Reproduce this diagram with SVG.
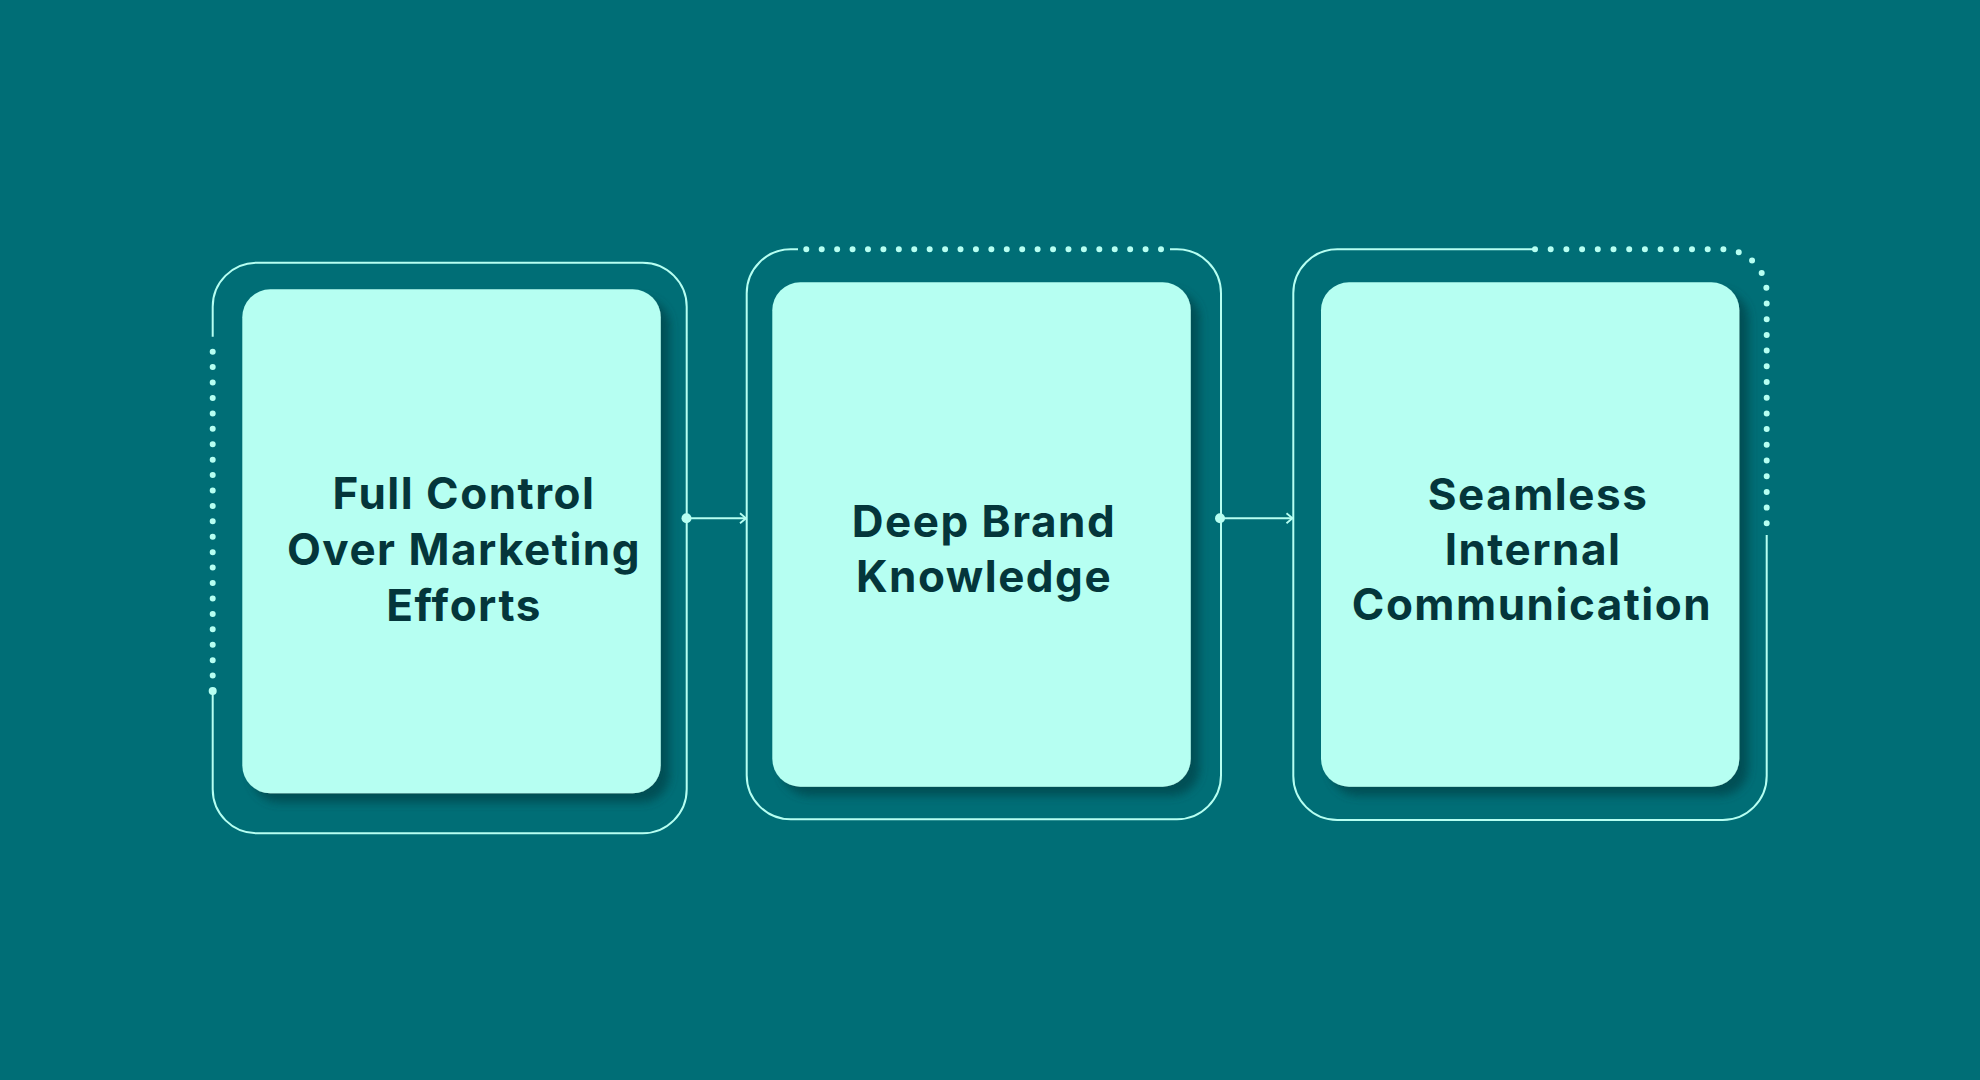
<svg xmlns="http://www.w3.org/2000/svg" width="1980" height="1080" viewBox="0 0 1980 1080">
<defs>
<filter id="sh" x="-10%" y="-10%" width="130%" height="130%">
<feDropShadow dx="9" dy="9" stdDeviation="5" flood-color="#02444a" flood-opacity="0.75"/>
</filter>
<marker id="arr" viewBox="0 0 12 12" refX="11" refY="6" markerWidth="12" markerHeight="12" markerUnits="userSpaceOnUse" orient="auto">
<path d="M5,1 L11,6 L5,11" fill="none" stroke="#b6fff2" stroke-width="1.8"/>
</marker>
</defs>
<style>
.line{fill:none;stroke:#b6fff2;stroke-width:2}
.dots{fill:none;stroke:#b6fff2;stroke-width:6;stroke-linecap:round;stroke-dasharray:0 1}
.card{fill:#b6fff2;filter:url(#sh)}
.lbl{font-family:Inter,"Open Sans","Liberation Sans",sans-serif;font-weight:700;font-size:44px;letter-spacing:1.5px;fill:#04363b;text-anchor:middle}
.pt{fill:#b6fff2}
</style>
<rect width="1980" height="1080" fill="#006e76"/>

<g id="node1">
<path class="line" d="M212.7,336.7 V306.7 A44,44 0 0 1 256.7,262.7 H642.7 A44,44 0 0 1 686.7,306.7 V789.3 A44,44 0 0 1 642.7,833.3 H256.7 A44,44 0 0 1 212.7,789.3 V691"/>
<path class="dots" pathLength="22" d="M212.7,351.7 V691"/>
<circle class="pt" cx="212.7" cy="691" r="4"/>
<rect class="card" x="242.3" y="289.3" width="418.4" height="504" rx="28"/>
<text class="lbl"><tspan x="464" y="509">Full Control</tspan><tspan x="464" y="565">Over Marketing</tspan><tspan x="464" y="621">Efforts</tspan></text>
</g>

<g id="node2">
<path class="line" d="M798,249.3 H790.7 A44,44 0 0 0 746.7,293.3 V775.3 A44,44 0 0 0 790.7,819.3 H1177 A44,44 0 0 0 1221,775.3 V293.3 A44,44 0 0 0 1177,249.3 H1170"/>
<path class="dots" pathLength="23" d="M806.3,249.3 H1161"/>
<rect class="card" x="772.3" y="282.3" width="418.4" height="504.4" rx="28"/>
<text class="lbl"><tspan x="984" y="537">Deep Brand</tspan><tspan x="984" y="592">Knowledge</tspan></text>
</g>

<g id="node3">
<path class="line" d="M1535,249.3 H1337.3 A44,44 0 0 0 1293.3,293.3 V776 A44,44 0 0 0 1337.3,820 H1722.7 A44,44 0 0 0 1766.7,776 V535"/>
<path class="dots" pathLength="31" d="M1535,249.3 H1722.7 A44,44 0 0 1 1766.7,293.3 V523.3"/>
<rect class="card" x="1321" y="282.3" width="418.3" height="504.4" rx="28"/>
<text class="lbl"><tspan x="1538" y="510">Seamless</tspan><tspan x="1533" y="565">Internal</tspan><tspan x="1532" y="620">Communication</tspan></text>
</g>

<g id="connectors">
<circle class="pt" cx="686.5" cy="518.3" r="5"/>
<path class="line" d="M686.5,518.3 H746" marker-end="url(#arr)"/>
<circle class="pt" cx="1220" cy="518.3" r="5"/>
<path class="line" d="M1220,518.3 H1292.5" marker-end="url(#arr)"/>
</g>
</svg>
